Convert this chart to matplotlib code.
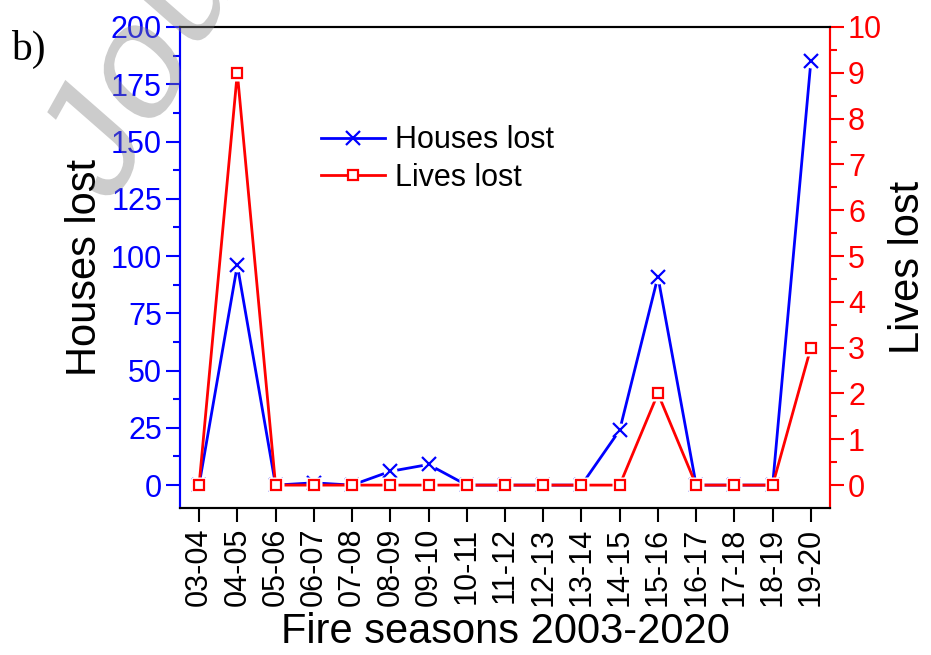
import numpy as np
import matplotlib.pyplot as plt
from matplotlib.textpath import TextPath
from matplotlib.patches import PathPatch
from matplotlib.font_manager import FontProperties
from matplotlib.transforms import Affine2D

seasons = ['03-04', '04-05', '05-06', '06-07', '07-08', '08-09', '09-10', '10-11', '11-12',
           '12-13', '13-14', '14-15', '15-16', '16-17', '17-18', '18-19', '19-20']
houses = [0, 96, 0, 1, 0, 6, 9, 0, 0, 0, 0, 24, 91, 0, 0, 0, 185]
lives = [0, 9, 0, 0, 0, 0, 0, 0, 0, 0, 0, 0, 2, 0, 0, 0, 3]

plt.rcParams['font.family'] = ['Liberation Sans', 'DejaVu Sans']

blue = '#0000ff'
red = '#ff0000'

fig = plt.figure(figsize=(9.31, 6.55), dpi=100)
ax1 = fig.add_axes([0.1933, 0.2244, 0.6982, 0.7344])
ax2 = ax1.twinx()

x = np.arange(len(seasons))

# everything drawn in ax2 so the two series can be layered; houses uses ax1's scale
tr1 = ax1.transData
ax2.plot(x, houses, color=blue, lw=2, transform=tr1, zorder=2)
ax2.plot(x, houses, ls='none', marker='o', ms=10, mfc='white', mec='none', transform=tr1, zorder=3)
ax2.plot(x, houses, ls='none', marker='x', ms=10, mew=1.6, color=blue, transform=tr1, zorder=4)
ax2.plot(x, lives, color=red, lw=2, zorder=5)
ax2.plot(x, lives, ls='none', marker='s', ms=12, mfc='white', mec='none', zorder=6)
ax2.plot(x, lives, ls='none', marker='s', ms=7.5, mfc='white', mec=red, mew=1.6, zorder=7)

ax1.set_xlim(-0.5, len(seasons) - 0.5)
ax1.set_ylim(-10, 200)
ax2.set_ylim(-0.5, 10)

ax1.set_yticks(np.arange(0, 201, 25))
ax1.set_yticks(np.arange(12.5, 200, 25), minor=True)
ax2.set_yticks(np.arange(0, 11, 1))
ax2.set_yticks(np.arange(0.5, 10, 1), minor=True)
ax1.set_xticks(x)
ax1.set_xticklabels(seasons, rotation=90)

ax1.tick_params(axis='x', bottom=True, top=False, direction='out', length=10, width=1.5,
                labelsize=22, colors='black', pad=4)
ax2.tick_params(axis='x', top=True, bottom=False, labeltop=False, labelbottom=False,
                direction='in', length=8, width=1.5)
ax1.tick_params(axis='y', which='major', direction='out', length=10, width=1.5,
                labelsize=22, colors=blue, pad=3)
ax1.tick_params(axis='y', which='minor', direction='out', length=5, width=1.5, colors=blue)
ax2.tick_params(axis='y', which='major', direction='out', length=10, width=1.5,
                labelsize=22, colors=red, pad=3)
ax2.tick_params(axis='y', which='minor', direction='out', length=5, width=1.5, colors=red)

for ax in (ax1, ax2):
    for s in ax.spines.values():
        s.set_linewidth(1.5)
    ax.spines['left'].set_color(blue)
    ax.spines['right'].set_color(red)

ax1.set_xlabel('Fire seasons 2003-2020', fontsize=30, labelpad=4)
ax1.set_ylabel('Houses lost', fontsize=30, labelpad=4)
ax2.set_ylabel('Lives lost', fontsize=30, labelpad=4)

h1 = plt.Line2D([], [], color=blue, lw=2, marker='x', ms=10, mew=1.6)
h2 = plt.Line2D([], [], color=red, lw=2, marker='s', ms=7.5, mfc='white', mec=red, mew=1.6)
ax2.legend([h1, h2], ['Houses lost', 'Lives lost'], loc='upper left',
           bbox_to_anchor=(0.174, 0.853), frameon=False, fontsize=22,
           handlelength=2.1, handletextpad=0.35, labelspacing=0.25)

fig.text(0.012, 0.925, 'b)', fontsize=30, family='Liberation Serif', va='center')

# watermark: rotated and stretched text, placed in pixels
wm = TextPath((0, 0), 'Journal Pre-proof', size=140, prop=FontProperties(family='Liberation Sans'))
wm_tr = Affine2D().rotate_deg(55).scale(1, 1.25).translate(110, 445).scale(1 / 100) + fig.dpi_scale_trans
fig.add_artist(PathPatch(wm, transform=wm_tr, facecolor='0.5', edgecolor='none', alpha=0.4, zorder=10))

fig.savefig('out.png', dpi=100)
